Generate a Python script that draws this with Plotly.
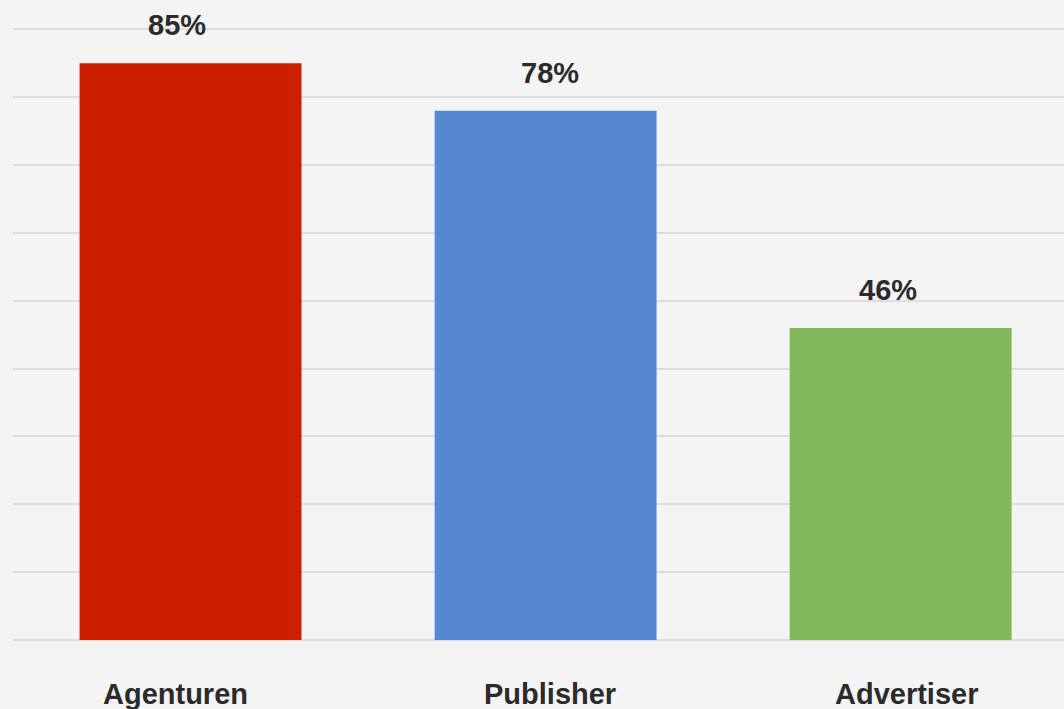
import plotly.graph_objects as go

categories = ["Agenturen", "Publisher", "Advertiser"]
values = [85, 78, 46]
value_labels = ["85%", "78%", "46%"]
colors = ["#cd1e00", "#5688d1", "#82b85b"]

value_shift = [-14, 4, -13]
cat_shift = [-15, 4, 6]
font_family = "Liberation Sans, Arial, sans-serif"
text_color = "#2b2b2b"

fig = go.Figure()
fig.add_trace(go.Bar(
    x=categories, y=values, marker=dict(color=colors, line=dict(width=0)),
    width=0.625, hoverinfo="skip",
))

for c, v, t, s1, s2 in zip(categories, values, value_labels, value_shift, cat_shift):
    fig.add_annotation(x=c, y=v, text="<b>%s</b>" % t, showarrow=False,
                       yanchor="bottom", yshift=20, xshift=s1,
                       font=dict(family=font_family, size=29, color=text_color))
    fig.add_annotation(x=c, y=0, yref="paper", text="<b>%s</b>" % c, showarrow=False,
                       yanchor="top", yshift=-36, xshift=s2,
                       font=dict(family=font_family, size=29, color=text_color))

fig.update_layout(
    width=1064, height=709,
    margin=dict(l=13, r=0, t=27.6, b=69),
    paper_bgcolor="#f4f4f4", plot_bgcolor="#f4f4f4",
    showlegend=False,
    xaxis=dict(range=[-0.5, 2.46], showticklabels=False, showgrid=False,
               zeroline=False, showline=False, ticks=""),
    yaxis=dict(range=[0, 90.2], dtick=10, showticklabels=False, showgrid=True,
               gridcolor="#dcdcdc", gridwidth=1.5, zeroline=True,
               zerolinecolor="#dcdcdc", zerolinewidth=1.5, showline=False, ticks=""),
)

fig.write_html("out.html")
